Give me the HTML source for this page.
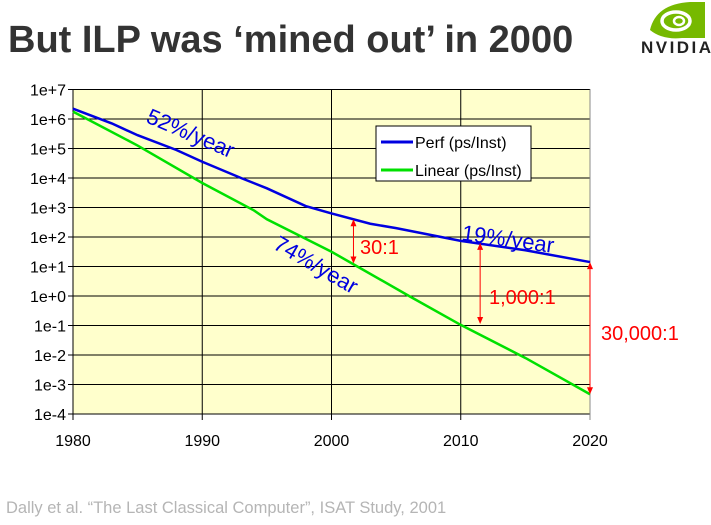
<!DOCTYPE html>
<html><head><meta charset="utf-8"><style>
body{margin:0;width:711px;height:525px;background:#fff;overflow:hidden;font-family:"Liberation Sans",sans-serif}
svg{position:absolute;left:0;top:0}
</style></head><body>
<svg id="c" width="711" height="525">
<text x="8" y="52" font-size="38" font-weight="bold" fill="#333">But ILP was ‘mined out’ in 2000</text>
<g>
<path d="M650,30 Q656,4 690,2 L705,2 L705,38 L682,38 Q662,40 650,30 Z" fill="#76b900"/>
<ellipse cx="676" cy="21" rx="14" ry="9" fill="none" stroke="#fff" stroke-width="3.5"/>
<ellipse cx="679" cy="21" rx="5" ry="4" fill="#76b900" stroke="#fff" stroke-width="2.5"/>
<text x="641" y="53" font-size="17" font-weight="bold" fill="#222" textLength="70">NVIDIA</text>
</g>
<g id="plot"></g>
<text x="6" y="513" font-size="16.5" fill="#b5b5b5">Dally et al. “The Last Classical Computer”, ISAT Study, 2001</text>
</svg>
<script>
const years=[1980,1983,1985,1988,1990,1993,1995,1998,2000,2003,2005,2010,2015,2020];
const perf=[6.35,5.85,5.45,4.95,4.55,4.0,3.65,3.05,2.8,2.45,2.3,1.87,1.55,1.15];
const linYears=[1980,1985,1990,1994,1995,2000,2002,2006,2010,2015,2020];
const linear=[6.25,5.1,3.83,2.9,2.6,1.5,1.0,0.0,-0.98,-2.1,-3.33];
const yTicks=['1e+7','1e+6','1e+5','1e+4','1e+3','1e+2','1e+1','1e+0','1e-1','1e-2','1e-3','1e-4'];
const xTicks=[1980,1990,2000,2010,2020];
const NS='http://www.w3.org/2000/svg';
const L=73,R=590,T=89.5,B=414;
const X=v=>L+(v-1980)/40*(R-L);
const Y=v=>T+(7-v)/11*(B-T);
const g=document.getElementById('plot');
function mk(t,a,p){const e=document.createElementNS(NS,t);for(const k in a)e.setAttribute(k,a[k]);(p||g).appendChild(e);return e;}
const bg=mk('rect',{x:L,y:T,width:R-L,height:B-T,fill:'#ffffcc',stroke:'#888'});


yTicks.forEach((t,i)=>{const v=7-i;const y=Y(v);
 const ln=mk('line',{x1:L-5,x2:R,y1:y,y2:y,stroke:'#000','stroke-width':1});
 
 
 const tx=mk('text',{x:L-7,y:y+6,'font-size':16,'text-anchor':'end'});tx.textContent=t;
 
 });
xTicks.forEach(t=>{const x=X(t);
 const ln=mk('line',{x1:x,x2:x,y1:T,y2:B+6,stroke:t==2020?'#888':'#000','stroke-width':1});
 
 
 const tx=mk('text',{x:x,y:446,'font-size':16,'text-anchor':'middle'});tx.textContent=t;
 
 });
const lp=mk('polyline',{points:linYears.map((y,i)=>X(y)+','+Y(linear[i])).join(' '),fill:'none',stroke:'#00e000','stroke-width':2.5});


const pp=mk('polyline',{points:years.map((y,i)=>X(y)+','+Y(perf[i])).join(' '),fill:'none',stroke:'#0000e0','stroke-width':2.5});


const lg=mk('g',{});


mk('rect',{x:376,y:126,width:155,height:55,fill:'#fff',stroke:'#000'},lg);
mk('line',{x1:381,x2:413,y1:142,y2:142,stroke:'#0000e0','stroke-width':3},lg);
mk('line',{x1:381,x2:413,y1:170,y2:170,stroke:'#00e000','stroke-width':3},lg);
const l1=mk('text',{x:415,y:148,'font-size':16},lg);l1.textContent='Perf (ps/Inst)';


const l2=mk('text',{x:415,y:176,'font-size':16},lg);l2.textContent='Linear (ps/Inst)';


function lab(txt,x,y,rot,col,fs,name){const t=mk('text',{x:x,y:y,'font-size':fs,fill:col,transform:`rotate(${rot} ${x} ${y})`});t.textContent=txt;
 
 }
lab('52%/year',145,122,23,'#0000e0',22,'perf-rate-label');
lab('74%/year',272,248,30,'#0000e0',22,'linear-rate-label');
lab('19%/year',461,240,8,'#0000e0',22,'late-rate-label');
lab('30:1',360,254,0,'#f00',20,'ratio-30');
lab('1,000:1',489,304,0,'#f00',20,'ratio-1000');
lab('30,000:1',601,340,0,'#f00',20,'ratio-30000');
function arrow(yr,a,b,name){const x=X(yr),y1=Y(a),y2=Y(b);
 const gg=mk('g',{});
 
 
 mk('line',{x1:x,x2:x,y1:y1+4,y2:y2-4,stroke:'#f00','stroke-width':1},gg);
 mk('path',{d:`M${x-3},${y1+7} L${x},${y1} L${x+3},${y1+7}Z M${x-3},${y2-7} L${x},${y2} L${x+3},${y2-7}Z`,fill:'#f00'},gg);}
arrow(2001.7,2.6,1.1,'arrow-30');
arrow(2011.5,1.8,-0.95,'arrow-1000');
arrow(2020,1.15,-3.33,'arrow-30000');
</script>
</body></html>
